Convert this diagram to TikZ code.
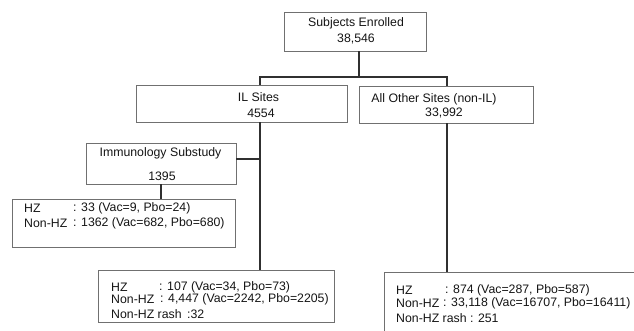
\documentclass[tikz,border=0pt]{standalone}
\usepackage{fontspec}
\setmainfont{Liberation Sans}
\usetikzlibrary{positioning}
\definecolor{boxline}{HTML}{707070}
\definecolor{linkline}{HTML}{303030}
\definecolor{ink}{HTML}{141414}
\newcommand{\px}{0.03cm}
\tikzset{
  flowbox/.style={draw=boxline, line width=0.7pt, inner sep=0pt, rectangle},
  txt/.style={text=ink, inner sep=0pt, font=\fontsize{10.5}{12.5}\selectfont},
  row/.style={txt, anchor=west},
  link/.style={draw=linkline, line width=1pt},
}

\begin{document}
\begin{tikzpicture}[x=\px, y=-\px]
\useasboundingbox (0,0) rectangle (634,330);
\clip (0,0) rectangle (634,330);

% boxes
\node[flowbox, minimum width=142*\px, minimum height=39*\px] (enrolled) at (355,31.5) {};
\node[flowbox, minimum width=211*\px, minimum height=37*\px] (ilsites) at (241.5,103.5) {};
\node[flowbox, minimum width=174*\px, minimum height=37*\px] (other) at (446,104.5) {};
\node[flowbox, minimum width=150*\px, minimum height=41*\px] (immuno) at (161,163.5) {};
\node[flowbox, minimum width=223*\px, minimum height=48*\px] (hzimm) at (123.5,223) {};
\node[flowbox, minimum width=236*\px, minimum height=52*\px] (hzil) at (216,296) {};
\node[flowbox, minimum width=266*\px, minimum height=68*\px] (hzoth) at (517,306) {};

% box texts
\node[txt] (enrT) at (356,23) {Subjects Enrolled};
\node[txt] (enrN) at (356,39) {38,546};
\node[txt] (ilT) at (258.5,97) {IL Sites};
\node[txt] (ilN) at (261,113) {4554};
\node[txt] (othT) at (434,99) {All Other Sites (non-IL)};
\node[txt] (othN) at (444,113) {33,992};
\node[txt] (immT) at (160.5,153) {Immunology Substudy};
\node[txt] (immN) at (162,176) {1395};

% counts
\node[row] (a1) at (24,208) {HZ};
\node[row] (a1v) at (73,208) {: 33 (Vac=9, Pbo=24)};
\node[row] (a2) at (24,223) {Non-HZ};
\node[row] (a2v) at (73,223) {: 1362 (Vac=682, Pbo=680)};

\node[row] (b1) at (111,287) {HZ};
\node[row] (b1v) at (159,287) {: 107 (Vac=34, Pbo=73)};
\node[row] (b2) at (111,299) {Non-HZ};
\node[row] (b2v) at (160,299) {: 4,447 (Vac=2242, Pbo=2205)};
\node[row] (b3) at (111,314) {Non-HZ rash};
\node[row] (b3v) at (187,314) {:32};

\node[row] (c1) at (396,290) {HZ};
\node[row] (c1v) at (445,290) {: 874 (Vac=287, Pbo=587)};
\node[row] (c2) at (396,303) {Non-HZ};
\node[row] (c2v) at (443,303) {: 33,118 (Vac=16707, Pbo=16411)};
\node[row] (c3) at (396,318) {Non-HZ rash : 251};

% connectors
\coordinate (jn) at (359,77);
\coordinate (ilx) at (260,77);
\coordinate (othx) at (447,77);
\coordinate (imj) at (260,159);
\draw[link] (enrolled.south -| jn) -- (jn);
\draw[link] (ilsites.north -| ilx) -- (ilx) -- (othx) -- (other.north -| othx);
\draw[link] (ilsites.south -| ilx) -- (hzil.north -| ilx);
\draw[link] (imj -| immuno.east) -- (imj);
\draw[link] (immuno.south) -- (immuno.south |- hzimm.north);
\draw[link] (other.south -| othx) -- (hzoth.north -| othx);
\end{tikzpicture}
\end{document}
